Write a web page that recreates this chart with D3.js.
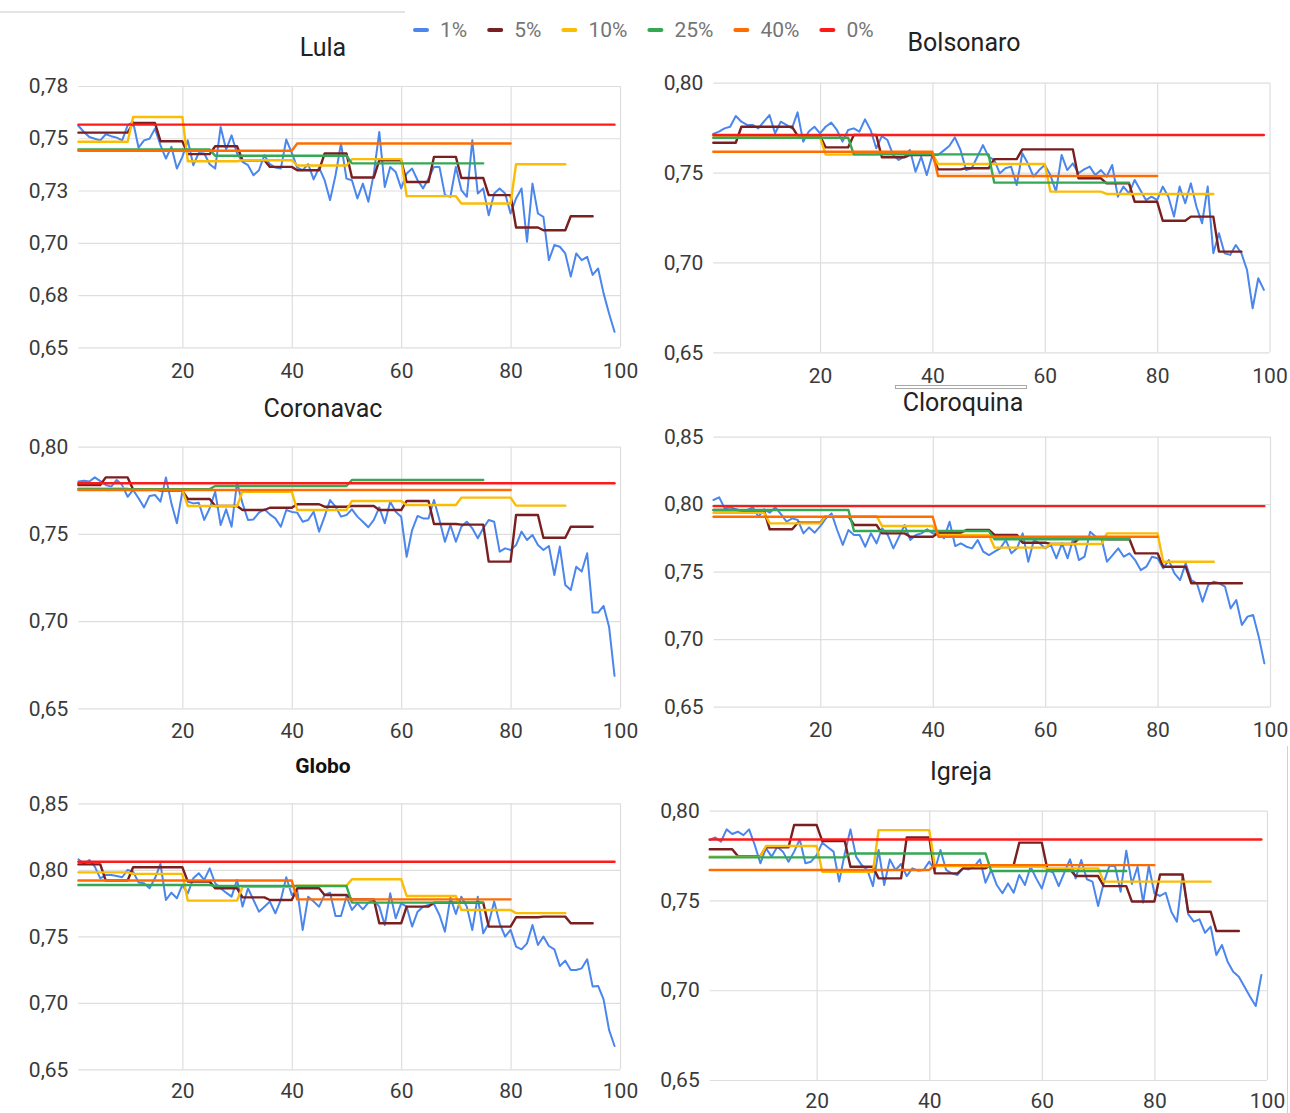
<!DOCTYPE html>
<html>
<head>
<meta charset="utf-8">
<script src="https://cdn.jsdelivr.net/npm/d3@7"></script>
<style>
  html, body { margin: 0; padding: 0; background: #fff; }
  svg { display: block; font-family: Roboto, Arial, sans-serif; }
</style>
</head>
<body>
<svg id="chart" width="1290" height="1113"></svg>
<script>
// ---------------- DATA ----------------
const seriesNames = ["1%", "5%", "10%", "25%", "40%", "0%"];
const blockSizes = [1, 5, 10, 25, 40, 99];   // each series repeats its value over blocks of this many points
const panelTitles = ["Lula", "Bolsonaro", "Coronavac", "Cloroquina", "Globo", "Igreja"];
const xTicks = [20, 40, 60, 80, 100];

const yTicksLula = [0.65, 0.675, 0.70, 0.725, 0.75, 0.775];
const yLabelsLula = ["0,65", "0,68", "0,70", "0,73", "0,75", "0,78"];
const yTicks80 = [0.65, 0.70, 0.75, 0.80];
const yLabels80 = ["0,65", "0,70", "0,75", "0,80"];
const yTicks85 = [0.65, 0.70, 0.75, 0.80, 0.85];
const yLabels85 = ["0,65", "0,70", "0,75", "0,80", "0,85"];

// Lula
const lula_1 = [0.756,0.753,0.7506,0.7498,0.749,0.7519,0.751,0.7503,0.749,0.7562,
  0.7578,0.7455,0.749,0.7498,0.7546,0.7467,0.7403,0.7459,0.7355,0.7411,
  0.749,0.7371,0.743,0.7427,0.7376,0.7355,0.7554,0.7446,0.7514,0.7427,
  0.7387,0.7371,0.7323,0.7347,0.7419,0.7376,0.736,0.7355,0.7494,0.743,
  0.736,0.7347,0.7376,0.7303,0.736,0.730,0.7204,0.7323,0.7475,0.7307,
  0.7299,0.7212,0.7283,0.7196,0.7331,0.753,0.7267,0.7363,0.7339,0.726,
  0.7331,0.7355,0.7299,0.726,0.7307,0.7363,0.7363,0.7228,0.722,0.7363,
  0.7252,0.722,0.749,0.7236,0.726,0.7132,0.7236,0.726,0.7236,0.714,
  0.7212,0.726,0.7005,0.7283,0.714,0.7124,0.6917,0.6989,0.6981,0.6949,
  0.6838,0.6949,0.6917,0.6933,0.6846,0.6877,0.6758,0.6662,0.6574];
const lula_5 = [0.7527,0.7527,0.7573,0.7486,0.7424,0.7462,0.7395,0.7363,0.7347,0.7427,
  0.7312,0.7395,0.7291,0.7411,0.731,0.7228,0.7073,0.706,0.7127];
const lula_10 = [0.7483,0.7602,0.739,0.7395,0.737,0.740,0.7223,0.7188,0.7376];
const lula_25 = [0.7446,0.7416,0.738];
const lula_40 = [0.744,0.7475];
const lula_0 = [0.7565];

// Bolsonaro
const bolsonaro_1 = [0.7715,0.7728,0.7746,0.7755,0.7815,0.7783,0.7765,0.7765,0.7746,0.7783,
  0.782,0.7718,0.7783,0.7765,0.7746,0.7835,0.7672,0.7728,0.7755,0.7718,
  0.7755,0.7778,0.7737,0.7672,0.7737,0.7746,0.7728,0.7796,0.7737,0.7635,
  0.7703,0.7681,0.7598,0.757,0.7588,0.7626,0.7505,0.7588,0.7486,0.7598,
  0.7598,0.7622,0.7648,0.7696,0.7626,0.7514,0.7524,0.7588,0.7653,0.7588,
  0.757,0.7496,0.7524,0.7533,0.7431,0.7607,0.7551,0.7477,0.7514,0.7542,
  0.7486,0.7394,0.7598,0.7514,0.7551,0.7496,0.7518,0.7533,0.7486,0.7514,
  0.7477,0.7542,0.7366,0.7422,0.7384,0.7459,0.7403,0.7347,0.7366,0.7347,
  0.7422,0.7366,0.7255,0.7422,0.7329,0.744,0.731,0.7218,0.7422,0.7051,
  0.7162,0.7051,0.7042,0.7097,0.7051,0.6958,0.6745,0.6912,0.6847];
const bolsonaro_5 = [0.7666,0.7755,0.7755,0.7705,0.764,0.7709,0.7585,0.7598,0.7518,0.7524,
  0.7575,0.7629,0.7629,0.7468,0.744,0.7338,0.7232,0.7255,0.706];
const bolsonaro_10 = [0.7695,0.7695,0.7600,0.7605,0.7548,0.7548,0.7394,0.7381,0.7381];
const bolsonaro_25 = [0.7694,0.7601,0.7444];
const bolsonaro_40 = [0.7616,0.7481];
const bolsonaro_0 = [0.7709];

// Coronavac
const coronavac_1 = [0.78,0.7805,0.78,0.7824,0.7803,0.778,0.7771,0.7809,0.778,0.7713,
  0.7752,0.7704,0.7652,0.7717,0.7723,0.7685,0.7824,0.7675,0.7561,0.7742,
  0.7685,0.7675,0.7679,0.758,0.7647,0.7742,0.7551,0.7641,0.7541,0.7794,
  0.7675,0.758,0.7583,0.7622,0.7641,0.7612,0.7589,0.7541,0.7637,0.7626,
  0.7622,0.757,0.758,0.7627,0.7513,0.7599,0.7694,0.7656,0.7599,0.7608,
  0.7641,0.7599,0.757,0.7538,0.758,0.7652,0.7561,0.7685,0.7627,0.7599,
  0.7369,0.7522,0.7603,0.7589,0.7589,0.7694,0.758,0.7455,0.7551,0.7455,
  0.7541,0.757,0.7532,0.7475,0.7532,0.758,0.757,0.7398,0.7417,0.7408,
  0.7436,0.7513,0.7465,0.7494,0.7436,0.7408,0.7431,0.7264,0.7427,0.7207,
  0.7178,0.7312,0.7284,0.7389,0.7049,0.7049,0.7087,0.6968,0.6686];
const coronavac_5 = [0.778,0.7824,0.7755,0.7748,0.770,0.766,0.7637,0.765,0.767,0.7656,
  0.766,0.7637,0.7689,0.7557,0.7553,0.7341,0.7608,0.7478,0.7541];
const coronavac_10 = [0.776,0.7752,0.766,0.7742,0.7637,0.7689,0.7666,0.7708,0.7662];
const coronavac_25 = [0.7757,0.7775,0.7809];
const coronavac_40 = [0.7752,0.7752];
const coronavac_0 = [0.779];

// Cloroquina
const cloroquina_1 = [0.8031,0.8051,0.7969,0.7977,0.7962,0.7952,0.7957,0.7977,0.7907,0.7962,
  0.7937,0.7977,0.7927,0.787,0.7895,0.7883,0.7784,0.7828,0.7789,0.7838,
  0.7895,0.7932,0.7809,0.7698,0.7809,0.7772,0.7772,0.7685,0.7784,0.771,
  0.7821,0.7772,0.7673,0.7759,0.7846,0.7735,0.7772,0.7784,0.7814,0.7784,
  0.7784,0.7747,0.787,0.769,0.771,0.7685,0.7673,0.7735,0.7648,0.7623,
  0.7648,0.7673,0.7735,0.7636,0.7673,0.7784,0.7574,0.7735,0.771,0.7673,
  0.7698,0.7599,0.771,0.7599,0.7747,0.7586,0.7611,0.7796,0.7759,0.7747,
  0.7574,0.7623,0.7673,0.7611,0.7636,0.7586,0.7512,0.7537,0.7611,0.7599,
  0.7525,0.7586,0.7488,0.7438,0.7562,0.7438,0.7414,0.7278,0.7401,0.7426,
  0.7414,0.7389,0.7228,0.729,0.7105,0.7167,0.7179,0.7019,0.6821];
const cloroquina_5 = [0.7957,0.7952,0.7814,0.7863,0.7912,0.7846,0.7784,0.7759,0.7789,0.7809,
  0.7772,0.7715,0.7705,0.7747,0.774,0.7636,0.7537,0.7414,0.7414];
const cloroquina_10 = [0.7937,0.7858,0.7912,0.7838,0.7772,0.7678,0.7705,0.7784,0.7574];
const cloroquina_25 = [0.7957,0.7801,0.774];
const cloroquina_40 = [0.7907,0.7759];
const cloroquina_0 = [0.7986];

// Globo
const globo_1 = [0.8079,0.8044,0.8074,0.8024,0.7936,0.7961,0.7961,0.7954,0.7944,0.7999,
  0.7986,0.7904,0.7899,0.7861,0.7936,0.8044,0.7773,0.7828,0.7786,0.7886,
  0.7823,0.7936,0.7974,0.7924,0.8011,0.7899,0.7861,0.7828,0.7798,0.7924,
  0.7723,0.7861,0.7773,0.7685,0.7723,0.7761,0.7673,0.7773,0.7944,0.7811,
  0.7848,0.7548,0.7798,0.7761,0.7723,0.7811,0.7828,0.7653,0.7653,0.7798,
  0.7698,0.7748,0.7703,0.7753,0.7768,0.7723,0.7585,0.7823,0.7635,0.7748,
  0.7723,0.7573,0.7685,0.7723,0.7736,0.7743,0.766,0.7535,0.7793,0.7668,
  0.7798,0.7723,0.7548,0.7798,0.7523,0.7598,0.7761,0.7598,0.7498,0.7548,
  0.7422,0.7402,0.7447,0.7585,0.7435,0.7498,0.7427,0.7402,0.7277,0.7317,
  0.7247,0.7247,0.7259,0.7327,0.7122,0.7127,0.7026,0.6796,0.6675];
const globo_5 = [0.8041,0.7919,0.8019,0.8019,0.7911,0.7861,0.7793,0.7773,0.7861,0.7811,
  0.7778,0.7598,0.7723,0.7753,0.7753,0.7573,0.7643,0.7648,0.7598];
const globo_10 = [0.7981,0.7969,0.7768,0.7873,0.7881,0.7929,0.7803,0.7698,0.7674];
const globo_25 = [0.7886,0.7878,0.7753];
const globo_40 = [0.7919,0.7778];
const globo_0 = [0.8061];

// Igreja
const igreja_1 = [0.7837,0.7851,0.7827,0.7896,0.787,0.7883,0.7864,0.7896,0.7809,0.7707,
  0.779,0.7744,0.7799,0.7772,0.7716,0.7772,0.784,0.7707,0.7716,0.7753,
  0.7822,0.7796,0.7772,0.7605,0.7762,0.7896,0.7744,0.7697,0.767,0.758,
  0.7781,0.7586,0.7729,0.767,0.7703,0.7636,0.7679,0.7666,0.767,0.7716,
  0.767,0.7781,0.767,0.7651,0.7642,0.7679,0.7673,0.7688,0.7729,0.7599,
  0.767,0.7586,0.754,0.7595,0.7543,0.7642,0.7586,0.7688,0.7623,0.7567,
  0.767,0.7655,0.758,0.7655,0.7729,0.7623,0.7725,0.7618,0.7605,0.7469,
  0.7599,0.7692,0.7692,0.7549,0.7777,0.7592,0.7688,0.7488,0.7692,0.754,
  0.7525,0.7543,0.7437,0.7382,0.7642,0.7424,0.7382,0.7395,0.732,0.7354,
  0.7196,0.7252,0.7159,0.7103,0.7075,0.702,0.6964,0.6912,0.7085];
const igreja_5 = [0.7785,0.7747,0.7796,0.792,0.7831,0.7688,0.7623,0.7851,0.7651,0.7679,
  0.7697,0.7822,0.7673,0.7636,0.758,0.7494,0.7645,0.7437,0.733];
const igreja_10 = [0.7744,0.7803,0.766,0.7892,0.7692,0.7688,0.7679,0.7605,0.7605];
const igreja_25 = [0.774,0.7762,0.7664];
const igreja_40 = [0.767,0.7697];
const igreja_0 = [0.784];

// ---------------- TABLES BUILT FROM THE ARRAYS ----------------
const panelSeries = [
  [lula_1, lula_5, lula_10, lula_25, lula_40, lula_0],
  [bolsonaro_1, bolsonaro_5, bolsonaro_10, bolsonaro_25, bolsonaro_40, bolsonaro_0],
  [coronavac_1, coronavac_5, coronavac_10, coronavac_25, coronavac_40, coronavac_0],
  [cloroquina_1, cloroquina_5, cloroquina_10, cloroquina_25, cloroquina_40, cloroquina_0],
  [globo_1, globo_5, globo_10, globo_25, globo_40, globo_0],
  [igreja_1, igreja_5, igreja_10, igreja_25, igreja_40, igreja_0]
];
const panelYTicks = [
  [yTicksLula, yLabelsLula], [yTicks80, yLabels80], [yTicks80, yLabels80],
  [yTicks85, yLabels85], [yTicks85, yLabels85], [yTicks80, yLabels80]
];
// number of points each series spans
const seriesLengths = [99, 95, 90, 75, 80, 99];

// ---------------- LAYOUT / STYLE ----------------
const colors = ["#4a86ec", "#7a1f1f", "#fbbc04", "#34a853", "#ff6d01", "#ff1a1a"];
const layout = [
  { xl: 78.4, xr: 620, top: 86, bot: 347.3, tx: 323, ty: 47, xly: 371, bold: false },
  { xl: 713.3, xr: 1269.5, top: 82.7, bot: 352.3, tx: 964, ty: 42, xly: 376, bold: false },
  { xl: 78.4, xr: 620, top: 446.7, bot: 708.3, tx: 323, ty: 408, xly: 731, bold: false },
  { xl: 713.5, xr: 1270, top: 436.7, bot: 706.7, tx: 963, ty: 402, xly: 730, bold: false },
  { xl: 78.4, xr: 620, top: 803.3, bot: 1069.3, tx: 323, ty: 766, xly: 1091, bold: true },
  { xl: 709.7, xr: 1267, top: 810.7, bot: 1080, tx: 961, ty: 771, xly: 1101, bold: false }
];

const svg = d3.select("#chart");

// screenshot frame remnants
svg.append("line").attr("x1", 0).attr("x2", 405).attr("y1", 12).attr("y2", 12)
  .attr("stroke", "#c8c8c8").attr("stroke-width", 1);
svg.append("rect").attr("x", 895.5).attr("y", 385.5).attr("width", 131).attr("height", 3)
  .attr("fill", "#fff").attr("stroke", "#a8a8a8").attr("stroke-width", 1);
svg.append("line").attr("x1", 1287.5).attr("x2", 1287.5).attr("y1", 746).attr("y2", 1113)
  .attr("stroke", "#d0d0d0").attr("stroke-width", 1);

function expand(values, size, n) {
  const pts = [];
  for (let i = 1; i <= n; i++) pts.push({ x: i, v: values[Math.floor((i - 1) / size)] });
  return pts;
}

panelTitles.forEach((title, p) => {
  const L = layout[p];
  const [yt, yl] = panelYTicks[p];
  const x = d3.scaleLinear().domain([1, 100]).range([L.xl, L.xr]);
  const y = d3.scaleLinear().domain([yt[0], yt[yt.length - 1]]).range([L.bot, L.top]);
  const g = svg.append("g");

  // y axis with gridlines
  const ya = d3.axisLeft(y).tickValues(yt).tickFormat((d, i) => yl[i])
    .tickSize(-(L.xr - L.xl)).tickPadding(10);
  const yg = g.append("g").attr("transform", `translate(${L.xl},0)`).call(ya);
  yg.select(".domain").remove();
  yg.selectAll(".tick line").attr("stroke", "#dedede").attr("stroke-width", 1.2);
  yg.selectAll(".tick text").attr("fill", "#3a3a3a").style("font-size", "21px")
    .style("font-family", "Roboto, Arial, sans-serif");

  // x axis with gridlines
  const xa = d3.axisBottom(x).tickValues(xTicks).tickFormat(d3.format("d"))
    .tickSize(-(L.bot - L.top)).tickPadding(0);
  const xg = g.append("g").attr("transform", `translate(0,${L.bot})`).call(xa);
  xg.select(".domain").remove();
  xg.selectAll(".tick line").attr("stroke", "#dedede").attr("stroke-width", 1.2);
  xg.selectAll(".tick text").attr("fill", "#3a3a3a").style("font-size", "21px")
    .style("font-family", "Roboto, Arial, sans-serif")
    .attr("y", L.xly - L.bot).attr("dy", "0.35em");

  // series
  const line = d3.line().x(d => x(d.x)).y(d => y(d.v));
  panelSeries[p].forEach((vals, s) => {
    const pts = s === 0 ? vals.map((v, i) => ({ x: i + 1, v }))
                        : expand(vals, blockSizes[s], seriesLengths[s]);
    g.append("path").datum(pts).attr("d", line)
      .attr("fill", "none").attr("stroke", colors[s])
      .attr("stroke-width", s === 0 ? 2 : 2.4)
      .attr("stroke-linejoin", "round").attr("stroke-linecap", "round");
  });

  // title
  svg.append("text").attr("x", L.tx).attr("y", L.ty).attr("dy", "0.35em")
    .attr("text-anchor", "middle")
    .style("font-size", L.bold ? "21px" : "25px")
    .style("font-weight", L.bold ? "bold" : "normal")
    .attr("fill", L.bold ? "#111" : "#222")
    .text(title);
});

// legend
const lg = svg.append("g");
let lx = 414;
seriesNames.forEach((name, i) => {
  lg.append("line").attr("x1", lx + 1).attr("x2", lx + 13).attr("y1", 30).attr("y2", 30)
    .attr("stroke", colors[i]).attr("stroke-width", 4).attr("stroke-linecap", "round");
  const t = lg.append("text").attr("x", lx + 26).attr("y", 30).attr("dy", "0.35em")
    .style("font-size", "21px").attr("fill", "#757575").text(name);
  lx += 26 + t.node().getComputedTextLength() + 21;
});
</script>
</body>
</html>
